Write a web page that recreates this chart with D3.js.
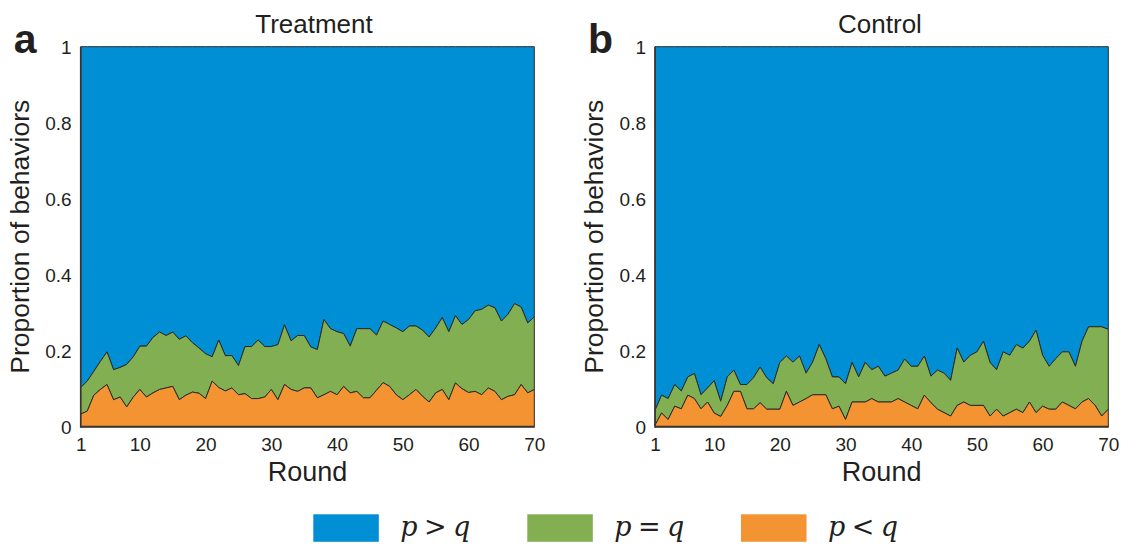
<!DOCTYPE html>
<html>
<head>
<meta charset="utf-8">
<script src="https://cdn.jsdelivr.net/npm/d3@7"></script>
<style>
  body { margin: 0; background: #fff; }
  svg { display: block; }
  .tick text { font-family: "Liberation Sans", Arial, sans-serif; font-size: 19px; fill: #231f20; }
</style>
</head>
<body>
<div id="chart"></div>
<script>
// Rounds of the game
const rounds = d3.range(1, 71);

// Treatment: share of p < q and p = q per round (p > q is the rest)
const treatLess = [0.033,0.041,0.083,0.098,0.111,0.071,0.078,0.052,0.078,0.098,
  0.078,0.089,0.098,0.102,0.106,0.071,0.083,0.091,0.088,0.074,
  0.120,0.103,0.094,0.102,0.084,0.087,0.074,0.074,0.078,0.098,
  0.071,0.111,0.098,0.093,0.102,0.102,0.076,0.084,0.093,0.084,
  0.106,0.089,0.093,0.076,0.076,0.096,0.116,0.106,0.084,0.071,
  0.084,0.098,0.080,0.065,0.089,0.098,0.071,0.115,0.100,0.090,
  0.093,0.084,0.102,0.093,0.071,0.080,0.084,0.111,0.089,0.098];
const treatEqual = [0.070,0.079,0.063,0.074,0.086,0.079,0.078,0.112,0.106,0.114,
  0.134,0.146,0.151,0.138,0.143,0.159,0.156,0.130,0.119,0.118,
  0.064,0.125,0.093,0.085,0.077,0.124,0.137,0.154,0.133,0.113,
  0.145,0.157,0.128,0.147,0.138,0.108,0.127,0.198,0.165,0.166,
  0.139,0.123,0.165,0.182,0.182,0.145,0.162,0.163,0.176,0.179,
  0.181,0.167,0.174,0.171,0.171,0.189,0.179,0.177,0.169,0.192,
  0.212,0.225,0.218,0.220,0.207,0.216,0.240,0.204,0.184,0.191];

// Control
const ctrlLess = [0.004,0.036,0.019,0.054,0.047,0.083,0.074,0.047,0.065,0.036,
  0.027,0.056,0.093,0.093,0.047,0.047,0.063,0.046,0.046,0.046,
  0.093,0.056,0.065,0.074,0.084,0.084,0.084,0.047,0.054,0.019,
  0.065,0.065,0.065,0.074,0.065,0.065,0.065,0.074,0.065,0.056,
  0.047,0.083,0.063,0.046,0.037,0.028,0.056,0.065,0.056,0.056,
  0.056,0.028,0.046,0.028,0.037,0.046,0.037,0.065,0.037,0.054,
  0.046,0.046,0.065,0.056,0.047,0.065,0.074,0.056,0.028,0.046];
const ctrlEqual = [0.039,0.047,0.055,0.057,0.047,0.048,0.066,0.037,0.037,0.085,
  0.040,0.075,0.056,0.018,0.064,0.082,0.094,0.083,0.067,0.123,
  0.093,0.114,0.121,0.067,0.086,0.132,0.095,0.084,0.077,0.094,
  0.104,0.066,0.104,0.076,0.094,0.068,0.076,0.075,0.113,0.103,
  0.112,0.103,0.070,0.103,0.104,0.094,0.151,0.105,0.132,0.141,
  0.169,0.141,0.104,0.169,0.151,0.170,0.170,0.160,0.217,0.134,
  0.113,0.133,0.132,0.141,0.112,0.160,0.189,0.207,0.235,0.210];

const yTicks = [0, 0.2, 0.4, 0.6, 0.8, 1];
const xTicks = [1, 10, 20, 30, 40, 50, 60, 70];
const legendLabels = [["p", " > ", "q"], ["p", " = ", "q"], ["p", " < ", "q"]];

const colors = { greater: "#008fd5", equal: "#81af51", less: "#f39331" };
const keys = ["less", "equal", "greater"];

const width = 1125, height = 545;
const svg = d3.select("#chart").append("svg")
  .attr("width", width)
  .attr("height", height);

const plotTop = 46.7, plotBottom = 426.7;
const panels = [
  { letter: "a", title: "Treatment", less: treatLess, equal: treatEqual, left: 80.7, right: 534.3, titleX: 314 },
  { letter: "b", title: "Control", less: ctrlLess, equal: ctrlEqual, left: 655, right: 1108.3, titleX: 880 }
];

const y = d3.scaleLinear().domain([0, 1]).range([plotBottom, plotTop]);

panels.forEach(function(p) {
  const x = d3.scaleLinear().domain([1, 70]).range([p.left, p.right]);

  const rows = rounds.map((r, i) => ({
    round: r,
    less: p.less[i],
    equal: p.equal[i],
    greater: 1 - p.less[i] - p.equal[i]
  }));
  const series = d3.stack().keys(keys)(rows);

  const area = d3.area()
    .x(d => x(d.data.round))
    .y0(d => y(d[0]))
    .y1(d => y(d[1]));

  const g = svg.append("g");

  g.selectAll("path.layer")
    .data(series.slice().reverse())
    .enter().append("path")
    .attr("class", "layer")
    .attr("d", area)
    .attr("fill", d => colors[d.key])
    .attr("stroke", "#2a2a2a")
    .attr("stroke-width", 1)
    .attr("stroke-linejoin", "round");

  // axis lines
  g.append("line")
    .attr("x1", p.left).attr("x2", p.left)
    .attr("y1", y(0) + 1).attr("y2", y(1))
    .attr("stroke", "#3b332d").attr("stroke-width", 1.6);
  g.append("line")
    .attr("x1", p.left).attr("x2", p.right + 0.5)
    .attr("y1", y(0)).attr("y2", y(0))
    .attr("stroke", "#3b332d").attr("stroke-width", 2);

  const yAxis = g.append("g")
    .attr("transform", `translate(${p.left},0)`)
    .call(d3.axisLeft(y).tickValues(yTicks).tickSize(0).tickPadding(9).tickFormat(d3.format("~g")));
  yAxis.select(".domain").remove();
  yAxis.selectAll("text").attr("dy", "0.36em");

  const xAxis = g.append("g")
    .attr("transform", `translate(0,${plotBottom})`)
    .call(d3.axisBottom(x).tickValues(xTicks).tickSize(0).tickPadding(11));
  xAxis.select(".domain").remove();

  // labels
  g.append("text")
    .attr("x", (p.left + p.right) / 2)
    .attr("y", 481)
    .attr("text-anchor", "middle")
    .attr("font-family", "Liberation Sans, Arial, sans-serif")
    .attr("font-size", 27)
    .attr("fill", "#231f20")
    .text("Round");

  g.append("text")
    .attr("transform", `translate(${p.left - 52},${(plotTop + plotBottom) / 2}) rotate(-90)`)
    .attr("text-anchor", "middle")
    .attr("font-family", "Liberation Sans, Arial, sans-serif")
    .attr("font-size", 26.5)
    .attr("fill", "#231f20")
    .text("Proportion of behaviors");

  g.append("text")
    .attr("x", p.titleX)
    .attr("y", 33)
    .attr("text-anchor", "middle")
    .attr("font-family", "Liberation Sans, Arial, sans-serif")
    .attr("font-size", 26)
    .attr("fill", "#231f20")
    .text(p.title);

  g.append("text")
    .attr("x", p.left - 67)
    .attr("y", 53)
    .attr("font-family", "Liberation Sans, Arial, sans-serif")
    .attr("font-weight", "bold")
    .attr("font-size", 41)
    .attr("fill", "#231f20")
    .text(p.letter);
});

// legend
const legendX = [313.3, 527.3, 741];
const legendKeys = ["greater", "equal", "less"];
const legend = svg.append("g");
legendKeys.forEach(function(k, i) {
  legend.append("rect")
    .attr("x", legendX[i]).attr("y", 514.3)
    .attr("width", 65.5).attr("height", 27.5)
    .attr("fill", colors[k]);
  const t = legend.append("text")
    .attr("x", legendX[i] + 87)
    .attr("y", 535.5)
    .attr("font-family", "DejaVu Serif, serif")
    .attr("font-size", 27)
    .attr("fill", "#231f20")
    .attr("textLength", 70)
    .attr("lengthAdjust", "spacing");
  t.append("tspan").attr("font-style", "italic").text(legendLabels[i][0]);
  t.append("tspan").attr("xml:space", "preserve").text(legendLabels[i][1]);
  t.append("tspan").attr("font-style", "italic").text(legendLabels[i][2]);
});
</script>
</body>
</html>
